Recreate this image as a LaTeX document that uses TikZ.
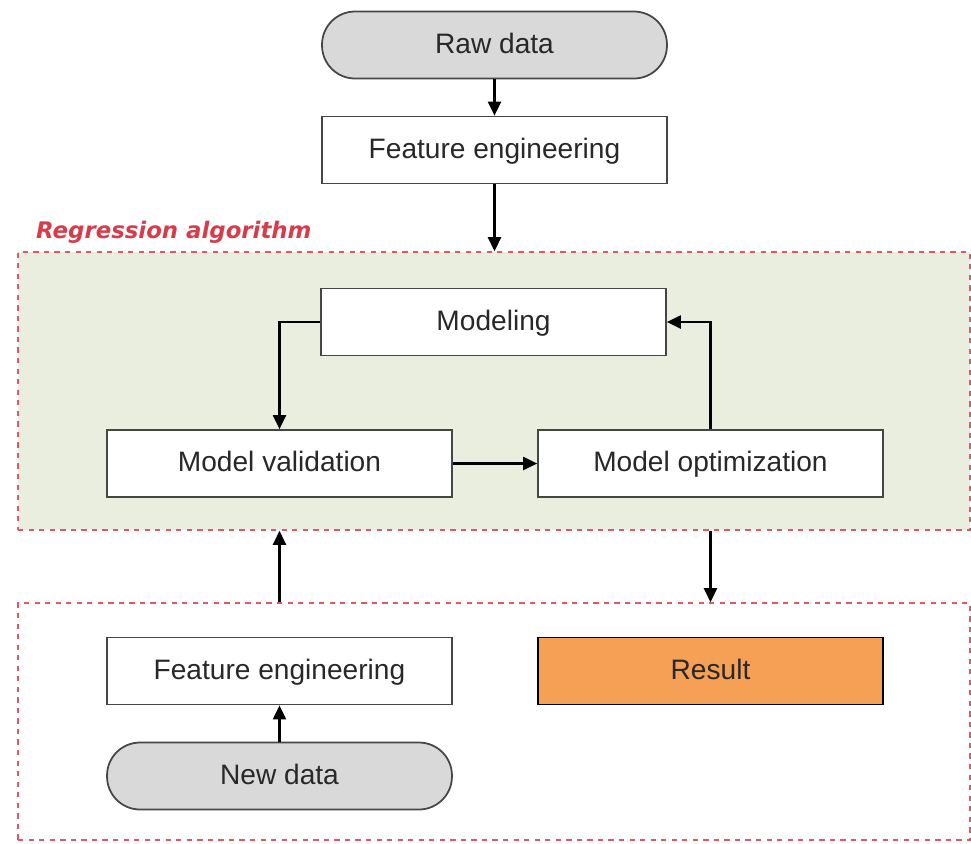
\documentclass[tikz,border=0pt]{standalone}
\usepackage{fontspec}
\setmainfont{Liberation Sans}
\newfontfamily\labelfont{DejaVu Sans}
\usetikzlibrary{arrows.meta, positioning, calc}
\definecolor{rgtext}{RGB}{40,40,40}
\definecolor{rgedge}{RGB}{70,70,70}
\definecolor{rggray}{RGB}{217,217,217}
\definecolor{rggreen}{RGB}{234,238,222}
\definecolor{rgred}{RGB}{215,60,75}
\definecolor{rgorange}{RGB}{245,160,85}

\begin{document}
\begin{tikzpicture}[x=0.02cm, y=-0.02cm,
  block/.style={rectangle, draw=rgedge, line width=1pt, fill=white, minimum width=6.9cm, minimum height=1.34cm, text height=2.3ex, text depth=0.5ex, font=\fontsize{16}{18}\selectfont, text=rgtext},
  pill/.style={block, rounded corners=0.66cm, fill=rggray},
  result/.style={block, draw=black, fill=rgorange},
  region/.style={rectangle, draw=rgred!85, dash pattern=on 3pt off 3pt, line width=0.9pt, minimum width=19.04cm},
  arr/.style={-{Triangle[length=2.8mm, width=2.6mm]}, line width=1.2pt, draw=black}
]
\useasboundingbox (0,0) rectangle (971,843);
% regions
\node[region, fill=rggreen, minimum height=5.56cm] (algo) at (494,391) {};
\node[region, minimum height=4.74cm] (apply) at (494,721.5) {};
\node[anchor=west, text=rgred, font=\labelfont\bfseries\itshape\fontsize{13}{15}\selectfont] (algolabel) at (30,232) {Regression algorithm};
% training
\node[pill] (raw) at (494.5,45) {Raw data};
\node[block] (feat) at (494.5,150) {Feature engineering};
\node[block] (model) at (493.5,322) {Modeling};
\node[block] (valid) at (279.5,463.5) {Model validation};
\node[block] (optim) at (710.5,463.5) {Model optimization};
% prediction
\node[block] (newfeat) at (279.5,671) {Feature engineering};
\node[result] (res) at (710.5,671) {Result};
\node[pill] (newdata) at (279.5,776) {New data};
\draw[arr] (raw) -- (feat);
\draw[arr] (feat.south) -- (feat.south |- algo.north);
\draw[arr] (model.west) -| (valid.north);
\draw[arr] (valid) -- (optim);
\draw[arr] (optim.north) |- (model.east);
\draw[arr] (algo.south -| optim) -- (apply.north -| optim);
\draw[arr] (newdata) -- (newfeat);
\draw[arr] (apply.north -| newfeat) -- (algo.south -| newfeat);
\end{tikzpicture}
\end{document}
